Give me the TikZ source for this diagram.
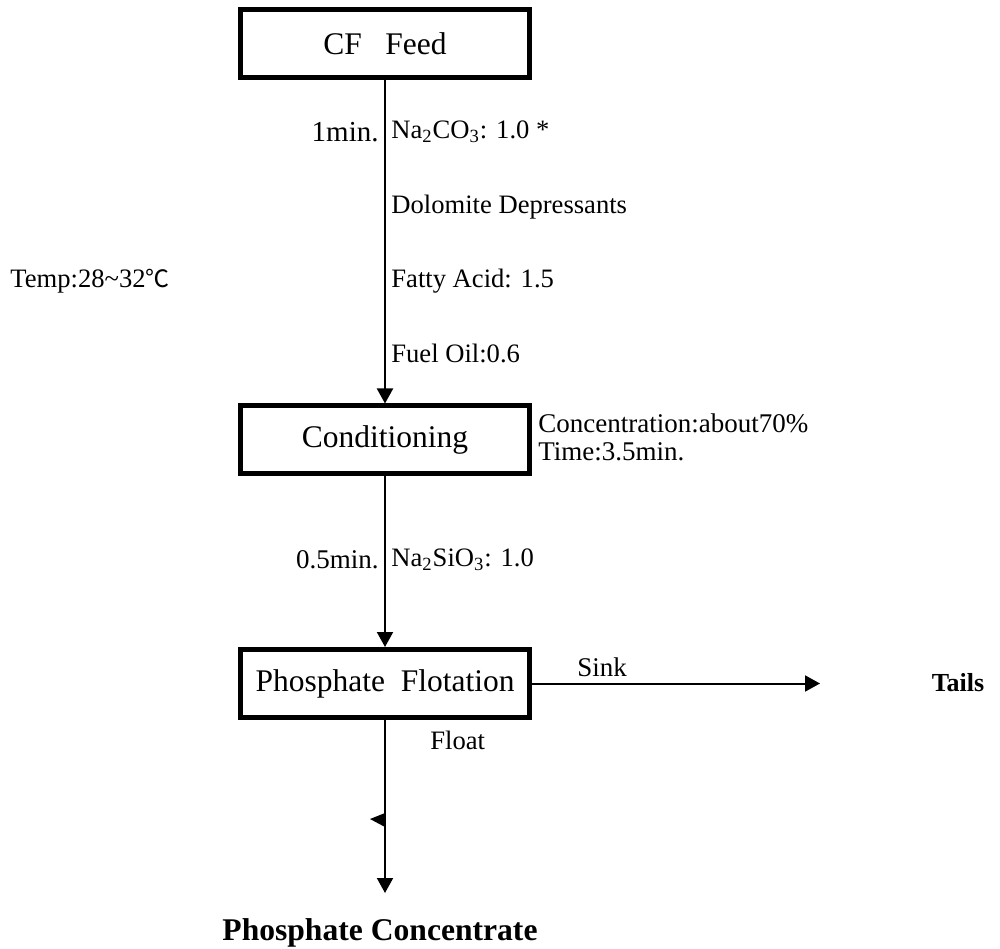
\documentclass[tikz,border=0pt]{standalone}
\usepackage{fontspec}
\setmainfont{Liberation Serif}
\newfontfamily\cjksym{Noto Sans CJK SC}
\usetikzlibrary{arrows.meta,positioning}
\tikzset{
  procbox/.style={
    draw=black, line width=2.5pt, inner sep=0pt,
    minimum width=144.5pt, minimum height=34pt,
    font=\fontsize{15.75}{18}\selectfont
  },
  notelabel/.style={
    inner sep=0pt, anchor=west,
    font=\fontsize{13.3}{15}\selectfont
  },
  timelabel/.style={
    inner sep=0pt, anchor=east,
    font=\fontsize{13.5}{16}\selectfont
  },
  endlabel/.style={
    inner sep=0pt,
    font=\bfseries\fontsize{13}{15}\selectfont
  },
  flowline/.style={line width=1pt, -{Triangle[width=8pt,length=7.5pt]}}
}

\begin{document}
\begin{tikzpicture}[x=0.5pt,y=0.5pt]
  \useasboundingbox (0,0) rectangle (1000,948);
  % process boxes
  \node[procbox] (feed) at (385,904.5) {CF~~~Feed};
  \node[procbox] (cond) at (385,508) {Conditioning};
  \node[procbox] (flot) at (385,264.5) {Phosphate~~Flotation};
  % products
  \node[endlabel] (tails) at (958,265) {Tails};
  \node[endlabel,font=\bfseries\fontsize{15.8}{18}\selectfont] (conc) at (380,15) {Phosphate Concentrate};
  \coordinate (sinkend) at (820,264.5);
  \coordinate (concend) at (385,55);
  \coordinate (halftip) at (370,129);
  % flows
  \draw[flowline] (feed) -- (cond);
  \draw[flowline] (cond) -- (flot);
  \draw[flowline] (flot) -- (sinkend);
  \draw[flowline] (flot) -- (concend);
  \fill (halftip) -- ++(15,6) -- ++(0,-14) -- cycle;
  % reagents and conditions
  \node[timelabel,font=\fontsize{14.5}{17}\selectfont] (time1) at (379,816) {1min.};
  \node[notelabel] (soda) at (391,816) {Na\textsubscript{2}CO\textsubscript{3}: 1.0 *};
  \node[notelabel] (dolo) at (391,741) {Dolomite Depressants};
  \node[notelabel] (fatty) at (391,667) {Fatty Acid: 1.5};
  \node[notelabel] (fuel) at (391,595) {Fuel Oil:0.6};
  \node[notelabel] (temp) at (10,667) {Temp:28\textasciitilde32{\cjksym\fontsize{12}{15}\selectfont ℃}};
  \node[notelabel,font=\fontsize{13.5}{16}\selectfont] (pulp) at (538,525) {Concentration:about70\%};
  \node[notelabel,font=\fontsize{13.5}{16}\selectfont] (ctime) at (538,496) {Time:3.5min.};
  \node[timelabel] (time2) at (379,388) {0.5min.};
  \node[notelabel] (silic) at (391,388) {Na\textsubscript{2}SiO\textsubscript{3}: 1.0};
  \node[notelabel,font=\fontsize{13.5}{16}\selectfont] (sink) at (577,281) {Sink};
  \node[notelabel] (float) at (430,208) {Float};
\end{tikzpicture}
\end{document}
